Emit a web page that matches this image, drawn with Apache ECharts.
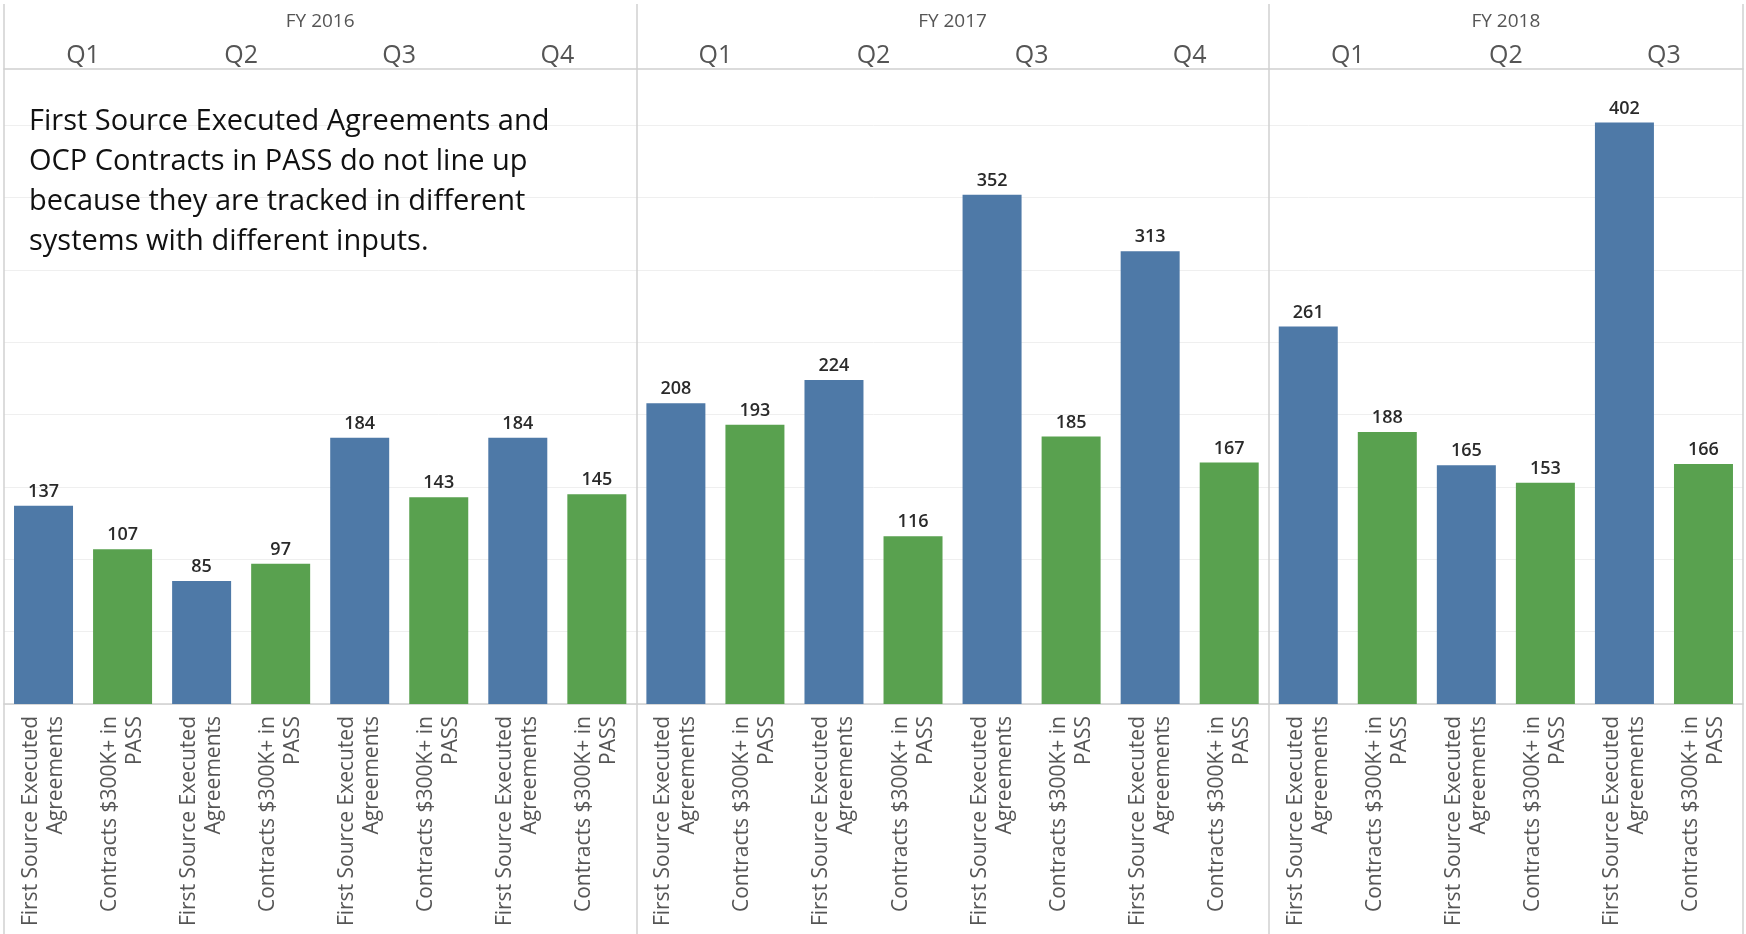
<!DOCTYPE html>
<html>
<head>
<meta charset="utf-8">
<script src="https://cdn.jsdelivr.net/npm/echarts@6/dist/echarts.min.js"></script>
<style>
  html, body { margin: 0; padding: 0; background: #fff; }
  #chart { width: 1746px; height: 934px; }
</style>
</head>
<body>
<div id="chart"></div>
<script>
// data
const years = ['FY 2016', 'FY 2017', 'FY 2018'];
const quartersPerYear = [4, 4, 3];
const quarters = ['Q1', 'Q2', 'Q3', 'Q4', 'Q1', 'Q2', 'Q3', 'Q4', 'Q1', 'Q2', 'Q3'];
const measures = ['First Source Executed\nAgreements', 'Contracts $300K+ in\nPASS'];
const firstSource = [137, 85, 184, 184, 208, 224, 352, 313, 261, 165, 402];
const contracts = [107, 97, 143, 145, 193, 116, 185, 167, 188, 153, 166];
const note = 'First Source Executed Agreements and\nOCP Contracts in PASS do not line up\nbecause they are tracked in different\nsystems with different inputs.';

const FONT = 'Open Sans';
const nCat = quarters.length * 2;

// one category per bar: quarter x measure
const categories = [];
const blueData = [];
const greenData = [];
quarters.forEach((q, i) => {
  categories.push(measures[0], measures[1]);
  blueData.push(firstSource[i], '-');
  greenData.push('-', contracts[i]);
});

// centre of each fiscal year, in bar units
const yearCenter = {};
let acc = 0;
years.forEach((y, i) => {
  yearCenter[acc + quartersPerYear[i]] = y;
  acc += quartersPerYear[i] * 2;
});

const chart = echarts.init(document.getElementById('chart'));

const barLabel = {
  show: true,
  position: 'top',
  distance: 5,
  fontFamily: FONT,
  fontSize: 18,
  fontWeight: 600,
  color: '#2a2a2a'
};

const option = {
  animation: false,
  backgroundColor: '#ffffff',
  grid: [
    { left: 4, right: 3, top: 69, bottom: 230 },
    { left: 4, right: 3, top: 4, bottom: 0 }
  ],
  xAxis: [
    {
      type: 'category',
      gridIndex: 0,
      data: categories,
      axisLine: { lineStyle: { color: '#cfcfcf', width: 1.5 } },
      axisTick: { show: false },
      axisLabel: {
        interval: 0,
        rotate: 90,
        margin: 12,
        fontFamily: FONT,
        fontSize: 21,
        lineHeight: 25,
        color: '#555'
      }
    },
    {
      type: 'category',
      gridIndex: 0,
      position: 'top',
      data: quarters,
      axisLine: { lineStyle: { color: '#cfcfcf', width: 1.5 } },
      axisTick: { show: false },
      axisLabel: {
        interval: 0,
        margin: 1,
        fontFamily: FONT,
        fontSize: 25,
        color: '#555'
      }
    },
    {
      type: 'value',
      gridIndex: 0,
      position: 'top',
      min: 0,
      max: nCat,
      interval: 1,
      axisLine: { show: false },
      axisTick: { show: false },
      splitLine: { show: false },
      axisLabel: {
        margin: 38,
        fontFamily: FONT,
        fontSize: 19,
        color: '#555',
        formatter: v => yearCenter[v] || ''
      }
    },
    {
      type: 'value',
      gridIndex: 1,
      min: 0,
      max: nCat,
      interval: 8,
      axisLine: { show: false },
      axisTick: { show: false },
      axisLabel: { show: false },
      splitLine: { show: true, lineStyle: { color: '#d0d0d0', width: 1.5 } }
    }
  ],
  yAxis: [
    {
      type: 'value',
      gridIndex: 0,
      min: 0,
      max: 439,
      interval: 50,
      axisLine: { show: false },
      axisTick: { show: false },
      axisLabel: { show: false },
      splitLine: { show: true, showMaxLine: false, lineStyle: { color: '#efefef', width: 1 } }
    },
    {
      type: 'value',
      gridIndex: 1,
      show: false,
      splitLine: { show: false }
    }
  ],
  series: [
    {
      name: 'First Source Executed Agreements',
      type: 'bar',
      xAxisIndex: 0,
      yAxisIndex: 0,
      barWidth: 59,
      barGap: '-100%',
      itemStyle: { color: '#4e79a7' },
      label: barLabel,
      data: blueData
    },
    {
      name: 'Contracts $300K+ in PASS',
      type: 'bar',
      xAxisIndex: 0,
      yAxisIndex: 0,
      barWidth: 59,
      barGap: '-100%',
      itemStyle: { color: '#59a14f' },
      label: barLabel,
      data: greenData
    }
  ],
  graphic: [
    {
      type: 'text',
      left: 29,
      top: 102,
      z: 10,
      style: {
        text: note,
        fontFamily: FONT,
        fontSize: 29,
        lineHeight: 40,
        fill: '#111'
      }
    }
  ]
};

chart.setOption(option);
window.addEventListener('resize', () => chart.resize());
</script>
</body>
</html>
